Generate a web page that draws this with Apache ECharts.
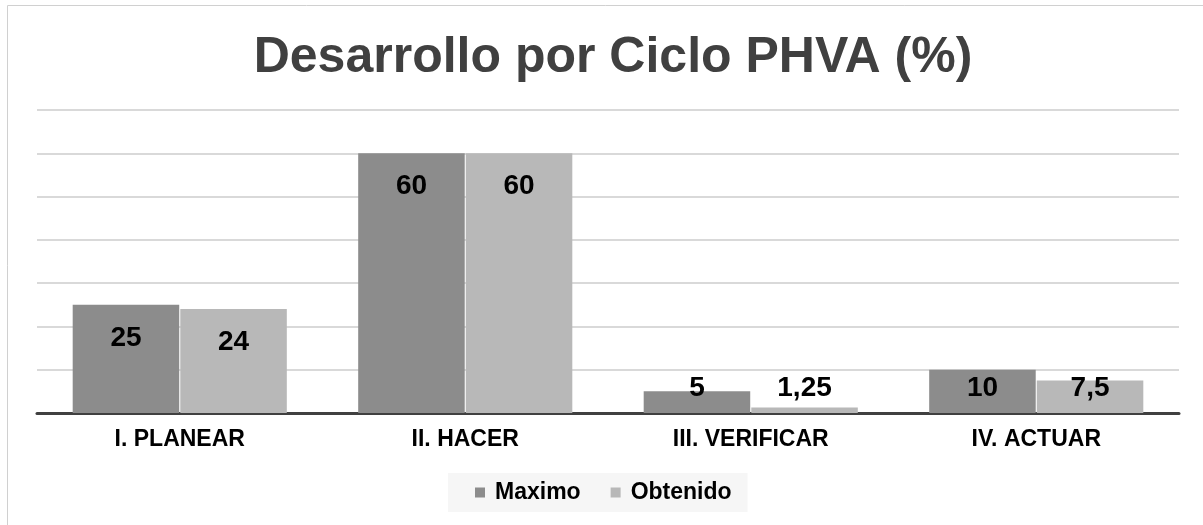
<!DOCTYPE html>
<html>
<head>
<meta charset="utf-8">
<script src="https://cdn.jsdelivr.net/npm/echarts@6/dist/echarts.min.js"></script>
<style>
  html, body { margin: 0; padding: 0; background: #fff; }
  #chart { width: 1203px; height: 525px; }
</style>
</head>
<body>
<div id="chart"></div>
<script>
const categories = ['I. PLANEAR', 'II. HACER', 'III. VERIFICAR', 'IV. ACTUAR']
const maximo = [25, 60, 5, 10]
const obtenido = [24, 60, 1.25, 7.5]

const chart = echarts.init(document.getElementById('chart'), null, { renderer: 'canvas' })

// short bars: label sits low, like Excel pushes it
function withLabels(values) {
    return values.map((v) => {
        let short = v < 15
        return {
            value: v,
            label: { position: short ? 'insideBottom' : 'insideTop', distance: short ? 11 : 19 },
        }
    })
}

const labelStyle = {
    show: true,
    color: '#000',
    fontSize: 28,
    fontWeight: 'bold',
    fontFamily: 'Liberation Sans',
    formatter: (p) => String(p.value).replace('.', ','),
}

const option = {
    animation: false,
    title: {
        text: 'Desarrollo por Ciclo PHVA (%)',
        left: 608,
        textAlign: 'center',
        top: 28,
        textStyle: {
            fontFamily: 'Liberation Sans',
            fontSize: 50,
            fontWeight: 'bold',
            color: '#404040',
        },
    },
    graphic: [
        {
            type: 'polyline',
            shape: { points: [[7.5, 525], [7.5, 5.5], [1203, 5.5]] },
            style: { stroke: '#d0d0d0', lineWidth: 1, fill: null },
            silent: true,
        },
    ],
    legend: {
        bottom: 13,
        left: 448,
        itemWidth: 10,
        itemHeight: 10,
        itemGap: 30,
        padding: [8, 16, 8, 27],
        backgroundColor: '#f6f6f6',
        icon: 'rect',
        textStyle: {
            fontFamily: 'Liberation Sans',
            fontSize: 23,
            fontWeight: 'bold',
            color: '#000',
            padding: [0, 0, 0, 5],
        },
    },
    grid: {
        left: 37,
        right: 24,
        top: 110,
        bottom: 112,
        containLabel: false,
    },
    xAxis: {
        type: 'category',
        data: categories,
        axisTick: { show: false },
        axisLine: { lineStyle: { color: '#404040', width: 3 } },
        axisLabel: {
            margin: 15,
            color: '#000',
            fontSize: 23,
            fontWeight: 'bold',
            fontFamily: 'Liberation Sans',
        },
    },
    yAxis: {
        type: 'value',
        min: 0,
        max: 70,
        interval: 10,
        axisLabel: { show: false },
        axisLine: { show: false },
        axisTick: { show: false },
        splitLine: { lineStyle: { color: '#d9d9d9', width: 2 } },
    },
    series: [
        {
            name: 'Maximo',
            type: 'bar',
            data: withLabels(maximo),
            barGap: '1%',
            barCategoryGap: '25%',
            itemStyle: { color: '#8c8c8c' },
            label: labelStyle,
        },
        {
            name: 'Obtenido',
            type: 'bar',
            data: withLabels(obtenido),
            itemStyle: { color: '#b8b8b8' },
            label: labelStyle,
        },
    ],
}

chart.setOption(option)
</script>
</body>
</html>
